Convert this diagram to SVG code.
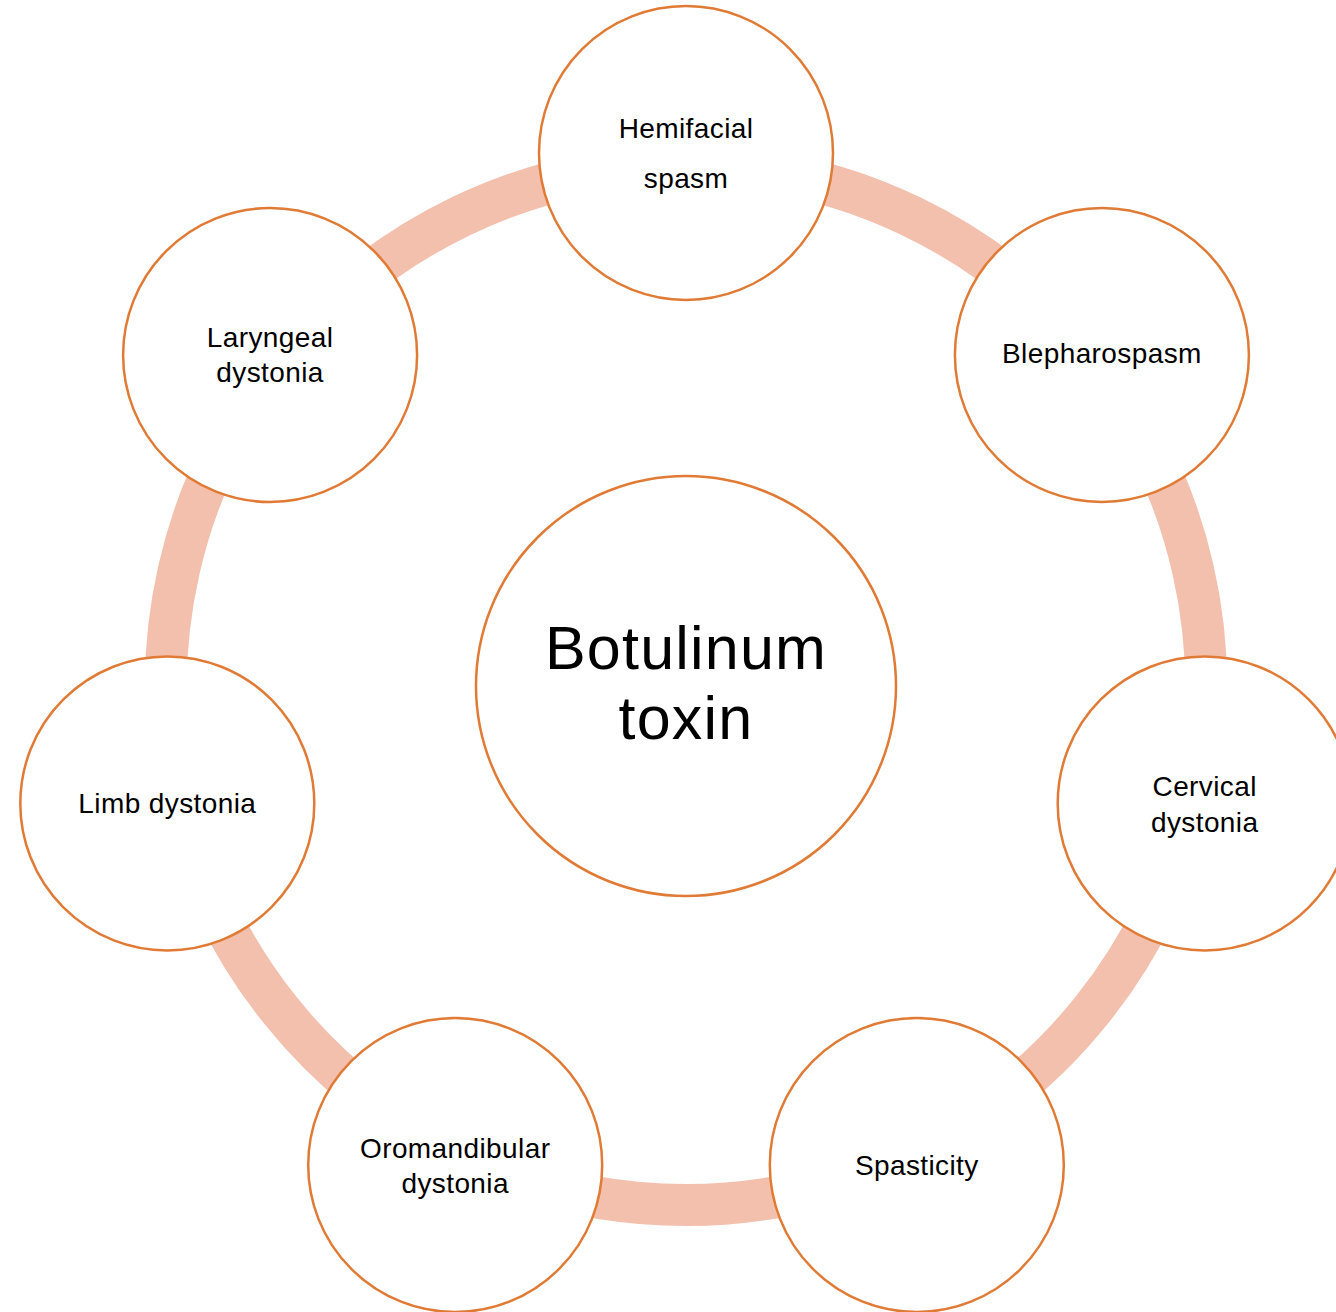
<svg xmlns="http://www.w3.org/2000/svg" width="1336" height="1312" viewBox="0 0 1336 1312">
<style>
.ring{fill:none;stroke:#F4C0AE;stroke-width:42}
.node{fill:#FFFFFF;stroke:#E07A35;stroke-width:2.5}
.lbl{font-family:"Liberation Sans",Arial,sans-serif;font-size:28px;fill:#000;text-anchor:middle;letter-spacing:0.4px}
.big{font-family:"Liberation Sans",Arial,sans-serif;font-size:61px;fill:#000;text-anchor:middle;letter-spacing:1.2px}
</style>
<rect width="1336" height="1312" fill="#FFFFFF"/>
<g id="connectors">
<path class="ring" d="M686,165 A520,520 0 0 1 1092.55,360.79"/>
<path class="ring" d="M1092.55,360.79 A520,520 0 0 1 1192.96,800.71"/>
<path class="ring" d="M1192.96,800.71 A520,520 0 0 1 911.62,1153.5"/>
<path class="ring" d="M911.62,1153.5 A520,520 0 0 1 460.38,1153.5"/>
<path class="ring" d="M460.38,1153.5 A520,520 0 0 1 179.04,800.71"/>
<path class="ring" d="M179.04,800.71 A520,520 0 0 1 279.45,360.79"/>
<path class="ring" d="M279.45,360.79 A520,520 0 0 1 686,165"/>
</g>
<g id="center">
<circle class="node" cx="686" cy="686" r="210"/>
<text class="big" x="686" y="669">Botulinum</text>
<text class="big" x="686" y="739">toxin</text>
</g>
<g id="hemifacial">
<circle class="node" cx="686" cy="153" r="147"/>
<text class="lbl" x="686" y="138">Hemifacial</text>
<text class="lbl" x="686" y="188">spasm</text>
</g>
<g id="blepharospasm">
<circle class="node" cx="1101.9" cy="355" r="147"/>
<text class="lbl" x="1101.9" y="363">Blepharospasm</text>
</g>
<g id="cervical">
<circle class="node" cx="1204.7" cy="803.4" r="147"/>
<text class="lbl" x="1204.7" y="796">Cervical</text>
<text class="lbl" x="1204.7" y="832">dystonia</text>
</g>
<g id="spasticity">
<circle class="node" cx="916.8" cy="1165" r="147"/>
<text class="lbl" x="916.8" y="1175">Spasticity</text>
</g>
<g id="oromandibular">
<circle class="node" cx="455.2" cy="1165" r="147"/>
<text class="lbl" x="455.2" y="1158">Oromandibular</text>
<text class="lbl" x="455.2" y="1193">dystonia</text>
</g>
<g id="limb">
<circle class="node" cx="167.3" cy="803.4" r="147"/>
<text class="lbl" x="167.3" y="813">Limb dystonia</text>
</g>
<g id="laryngeal">
<circle class="node" cx="270.1" cy="355" r="147"/>
<text class="lbl" x="270.1" y="347">Laryngeal</text>
<text class="lbl" x="270.1" y="382">dystonia</text>
</g>
</svg>
